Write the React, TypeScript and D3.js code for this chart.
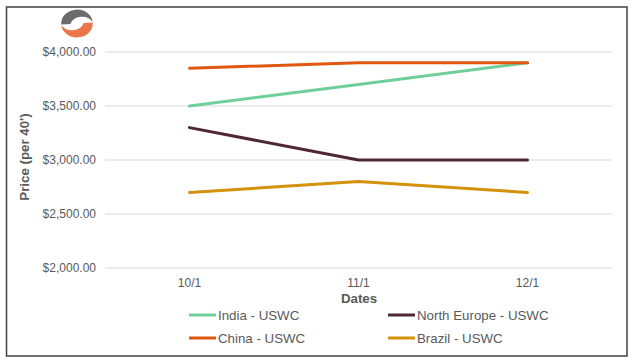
import React from 'react'
import * as d3 from 'd3'

const dates = ['10/1', '11/1', '12/1']
const india = [3500, 3700, 3900]
const china = [3850, 3900, 3900]
const northEurope = [3300, 3000, 3000]
const brazil = [2700, 2800, 2700]
const yTicks = [2000, 2500, 3000, 3500, 4000]

const series = [
  {name: 'India - USWC', values: india, color: '#6fcf9b'},
  {name: 'China - USWC', values: china, color: '#e0570f'},
  {name: 'North Europe - USWC', values: northEurope, color: '#4e2634'},
  {name: 'Brazil - USWC', values: brazil, color: '#d4910a'},
]

const legendOrder = [
  {s: series[0], x: 189, y: 315},
  {s: series[2], x: 388, y: 315},
  {s: series[1], x: 189, y: 338},
  {s: series[3], x: 388, y: 338},
]

const FONT = '"Liberation Sans", Arial, sans-serif'
const TEXT = '#595959'

export default function App() {
  const width = 637
  const height = 363

  const x = d3.scaleBand().domain(dates).range([105, 612])
  const y = d3.scaleLinear().domain([2000, 4000]).range([268, 52])
  const fmt = (v: number) => '$' + d3.format(',.2f')(v)

  const line = d3.line<number>()
    .x((_, i) => x(dates[i])! + x.bandwidth() / 2)
    .y(d => y(d))

  return <svg width={width} height={height}
    style={{position: 'absolute', left: 0, top: 0}} fontFamily={FONT}>
    <rect x={0} y={0} width={width} height={height} fill='white' />
    <rect x={6.5} y={7} width={620.5} height={349} fill='white' stroke='#404040' strokeWidth={1.5} />

    <g transform='translate(77,23.5) scale(1.12,0.97)'>
      <path d='M -14 1 A 14 14 0 0 1 14 -1.5 A 11 11 0 0 0 -6 0.5 Z' fill='#6b6b6e' />
      <path d='M -14 1 A 14 14 0 0 1 14 -1.5 A 11 11 0 0 0 -6 0.5 Z' fill='#ea7649' transform='rotate(180)' />
    </g>

    {yTicks.map(t => <g key={t}>
      <line x1={105} x2={612} y1={y(t)} y2={y(t)} stroke='#d9d9d9' strokeWidth={1} />
      <text x={96} y={y(t)} dy='0.35em' textAnchor='end' fontSize={12} fill={TEXT}>{fmt(t)}</text>
    </g>)}

    {dates.map(d => <text key={d} x={x(d)! + x.bandwidth() / 2} y={287} textAnchor='middle'
      fontSize={12} fill={TEXT}>{d}</text>)}

    <text x={359} y={303} textAnchor='middle' fontSize={13.3} fontWeight='bold' fill={TEXT}>Dates</text>
    <text transform='translate(29,157) rotate(-90)' textAnchor='middle' fontSize={13.3}
      fontWeight='bold' fill={TEXT}>Price (per 40')</text>

    {series.map(s => <path key={s.name} d={line(s.values)!} fill='none' stroke={s.color}
      strokeWidth={3} strokeLinecap='round' strokeLinejoin='round' />)}

    {legendOrder.map(({s, x: lx, y: ly}) => <g key={s.name}>
      <line x1={lx} x2={lx + 27} y1={ly} y2={ly} stroke={s.color} strokeWidth={3} />
      <text x={lx + 29} y={ly} dy='0.35em' fontSize={13.3} fill={TEXT}>{s.name}</text>
    </g>)}
  </svg>
}
